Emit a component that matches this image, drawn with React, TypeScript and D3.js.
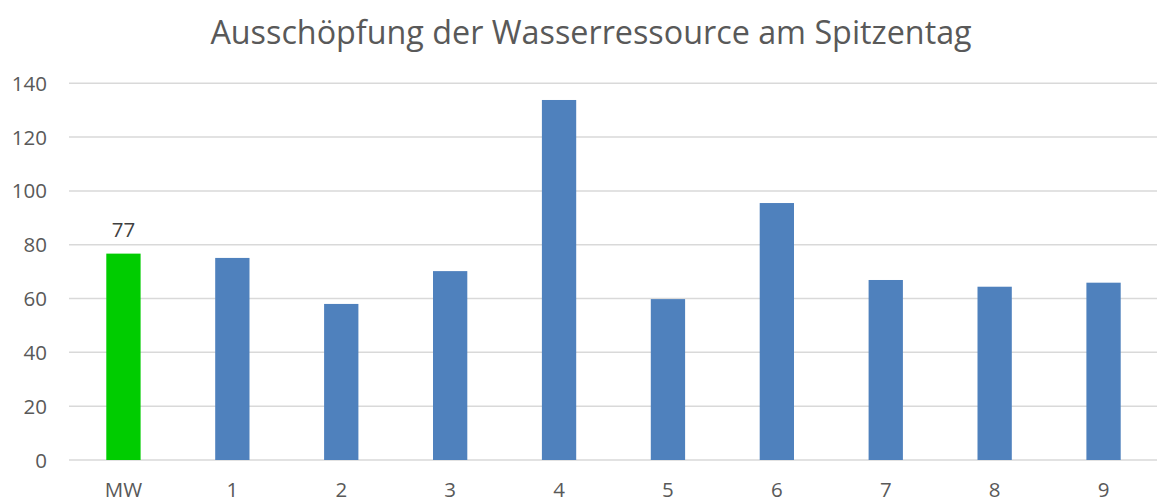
import React from "react";
import * as d3 from "d3";

const categories = ["MW", "1", "2", "3", "4", "5", "6", "7", "8", "9"];
const values = [76.7, 75.1, 58.0, 70.2, 133.8, 59.8, 95.5, 66.9, 64.4, 65.9];
const yTicks = [0, 20, 40, 60, 80, 100, 120, 140];
const title = "Ausschöpfung der Wasserressource am Spitzentag";

export default function App() {
  const W = 1157, H = 500;
  const left = 69, right = 1158, top = 83.3, bottom = 460;
  const x = d3.scaleBand<string>().domain(categories).range([left, right]).paddingInner(0.685).paddingOuter(0.3425);
  const y = d3.scaleLinear().domain([0, 140]).range([bottom, top]);
  const font = "'Open Sans', 'Liberation Sans', sans-serif";
  return (
    <svg width={W} height={H} style={{ position: "absolute", left: 0, top: 0, background: "#fff" }}>
      <text x={591} y={44} textAnchor="middle" fontFamily={font} fontSize={32.3} fill="#595959">{title}</text>
      {yTicks.map(t => (
        <g key={t}>
          <line x1={left} x2={W} y1={y(t)} y2={y(t)} stroke="#d9d9d9" strokeWidth={1.5} />
          <text x={47} y={y(t) + 7.5} textAnchor="end" fontFamily={font} fontSize={20.5} fill="#595959">{t}</text>
        </g>
      ))}
      {categories.map((c, i) => (
        <rect key={c} x={x(c)} y={y(values[i])} width={x.bandwidth()} height={y(0) - y(values[i])}
          fill={i === 0 ? "#00cc00" : "#4f81bd"} />
      ))}
      {categories.map(c => (
        <text key={c} x={(x(c) as number) + x.bandwidth() / 2} y={497} textAnchor="middle" fontFamily={font} fontSize={20.5} fill="#595959">{c}</text>
      ))}
      <text x={(x(categories[0]) as number) + x.bandwidth() / 2} y={237} textAnchor="middle" fontFamily={font} fontSize={20.5} fill="#404040">{Math.round(values[0])}</text>
    </svg>
  );
}
